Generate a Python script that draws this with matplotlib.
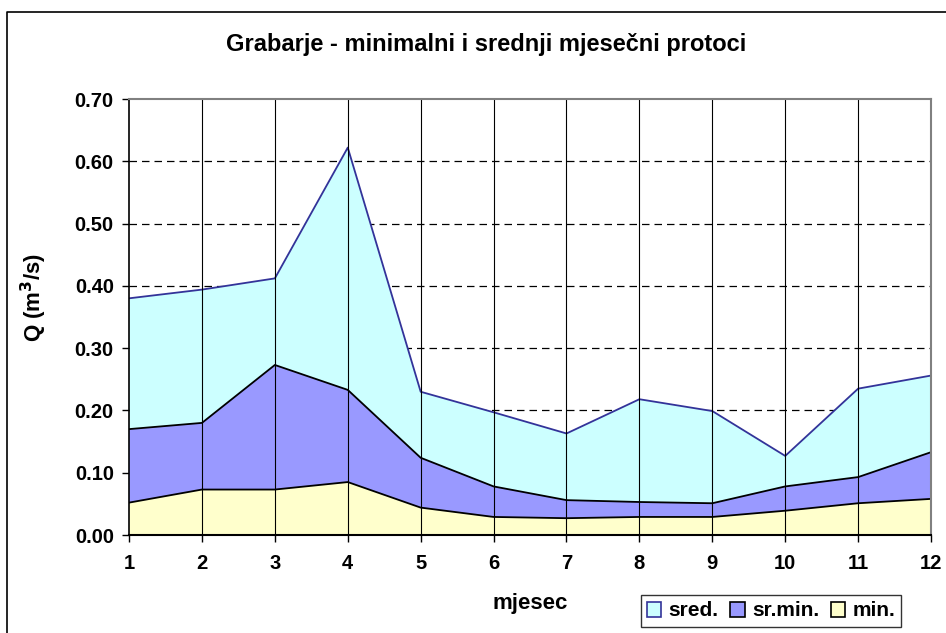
import matplotlib
matplotlib.use("Agg")
import matplotlib.pyplot as plt
from matplotlib.patches import Patch
from matplotlib.lines import Line2D

plt.rcParams['font.family'] = ['Liberation Sans', 'DejaVu Sans']
plt.rcParams['font.weight'] = 'bold'

# mjeseci i protoci (m3/s)
mjeseci = [1, 2, 3, 4, 5, 6, 7, 8, 9, 10, 11, 12]
sred = [0.380, 0.394, 0.412, 0.622, 0.230, 0.197, 0.163, 0.218, 0.199, 0.127, 0.235, 0.256]
sr_min = [0.170, 0.180, 0.273, 0.233, 0.124, 0.078, 0.056, 0.053, 0.051, 0.078, 0.093, 0.133]
min_q = [0.052, 0.073, 0.073, 0.085, 0.044, 0.029, 0.027, 0.029, 0.029, 0.039, 0.051, 0.058]
yticks = [0.0, 0.1, 0.2, 0.3, 0.4, 0.5, 0.6, 0.7]

fig = plt.figure(figsize=(9.46, 6.33), dpi=100)
ax = fig.add_axes([0.1364, 0.1548, 0.8478, 0.6888])

# horizontalne isprekidane linije ispod povrsina
for v in yticks[1:-1]:
    ax.axhline(v, color='black', lw=0.9, ls=(0, (6, 4)), zorder=0)

ax.fill_between(mjeseci, 0, sred, facecolor='#CCFFFF', edgecolor='none', zorder=1)
ax.plot(mjeseci, sred, color='#333399', lw=1.3, zorder=2)
ax.fill_between(mjeseci, 0, sr_min, facecolor='#9999FF', edgecolor='none', zorder=3)
ax.plot(mjeseci, sr_min, color='black', lw=1.3, zorder=4)
ax.fill_between(mjeseci, 0, min_q, facecolor='#FFFFCC', edgecolor='none', zorder=5)
ax.plot(mjeseci, min_q, color='black', lw=1.3, zorder=6)

# vertikalne linije preko povrsina
for m in mjeseci[1:-1]:
    ax.axvline(m, color='black', lw=0.8, zorder=7)

ax.set_xlim(1, 12)
ax.set_ylim(0, 0.7)
ax.set_xticks(mjeseci)
ax.set_yticks(yticks)
ax.set_yticklabels(['%.2f' % v for v in yticks])
ax.tick_params(axis='both', labelsize=14.5, direction='out', length=5, width=1, pad=6)
ax.tick_params(axis='x', pad=9)
for lab in ax.get_xticklabels() + ax.get_yticklabels():
    lab.set_fontweight('bold')

ax.spines['left'].set_color('black')
ax.spines['bottom'].set_color('black')
ax.spines['left'].set_linewidth(1.2)
ax.spines['bottom'].set_linewidth(1.5)
ax.spines['top'].set_color('#808080')
ax.spines['right'].set_color('#808080')
ax.spines['top'].set_linewidth(1.5)
ax.spines['right'].set_linewidth(1.5)
for s in ax.spines.values():
    s.set_zorder(10)

fig.text(486 / 946, 1 - 45 / 633, 'Grabarje - minimalni i srednji mjesečni protoci',
         ha='center', va='center', fontsize=17, fontweight='bold')
fig.text(34 / 946, 1 - 297 / 633, 'Q (m$^{\\mathbf{3}}$/s)', rotation=90,
         ha='center', va='center', fontsize=16, fontweight='bold')
fig.text(530 / 946, 1 - 603 / 633, 'mjesec', ha='center', va='center',
         fontsize=16, fontweight='bold')

handles = [Patch(facecolor='#CCFFFF', edgecolor='#333399', lw=1.2),
           Patch(facecolor='#9999FF', edgecolor='black', lw=1.2),
           Patch(facecolor='#FFFFCC', edgecolor='black', lw=1.2)]
leg = fig.legend(handles, ['sred.', 'sr.min.', 'min.'], ncol=3,
                 loc='center', bbox_to_anchor=(771 / 946, 1 - 611 / 633),
                 prop={'size': 15, 'weight': 'bold'}, frameon=True, fancybox=False,
                 handlelength=0.7, handleheight=0.7, handletextpad=0.35,
                 columnspacing=0.55, borderpad=0.3, borderaxespad=0)
leg.get_frame().set_edgecolor('black')
leg.get_frame().set_linewidth(1.0)

# okvir slike
fig.add_artist(Line2D([7 / 946, 7 / 946, 1.0], [0.0, 1 - 12 / 633, 1 - 12 / 633],
                      transform=fig.transFigure, color='black', lw=1.2))

fig.savefig('out.png', dpi=100)
